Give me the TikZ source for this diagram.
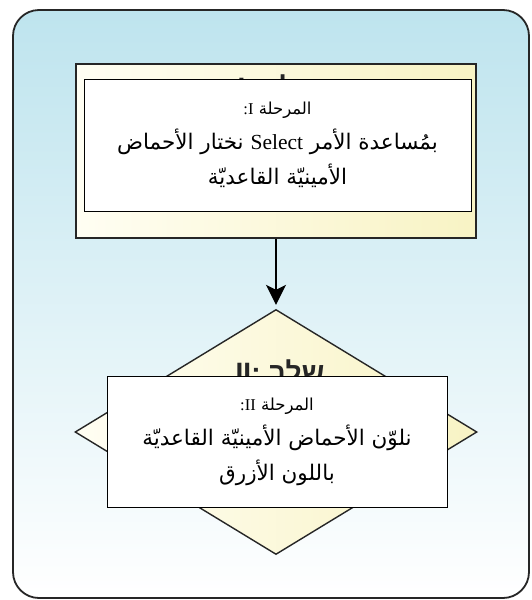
\documentclass[tikz,border=0pt]{standalone}
\usepackage{fontspec}
\setmainfont{Liberation Serif}
\newfontfamily\arabicfont[Script=Arabic]{DejaVu Sans}
\newfontfamily\hebrewfont[Script=Hebrew]{Liberation Sans}
\newfontfamily\latinfont{Liberation Serif}
\TeXXeTstate=1
\definecolor{skyblue}{RGB}{190,228,238}
\definecolor{paleyellow}{RGB}{248,243,196}
\definecolor{creamwhite}{RGB}{255,254,243}
\definecolor{inkgray}{RGB}{38,38,38}
\usetikzlibrary{arrows.meta,positioning,shapes.geometric}

\begin{document}
\begin{tikzpicture}[x=1pt, y=-1pt,
    stepbox/.style={draw=inkgray, line width=1.4pt, left color=creamwhite, right color=paleyellow, inner sep=0pt},
    notebox/.style={draw=black, line width=1pt, fill=white, align=center, inner sep=0pt,
      font=\arabicfont\fontsize{21.5}{35}\selectfont},
    hebtag/.style={font=\hebrewfont\bfseries\fontsize{28}{30}\selectfont, text=inkgray, anchor=base}]
    \useasboundingbox (0,0) rectangle (531,600);

    % Outer frame
    \draw[inkgray, line width=1.8pt, rounded corners=26pt, top color=skyblue, bottom color=white]
      (13,10) rectangle (529,598);

    % Step I (yellow box)
    \node[stepbox, minimum width=400pt, minimum height=174pt] (stepone) at (276,151) {};
    \node[hebtag] (tagone) at (278,97) {\beginR שלב I:\endR};

    % Step II (diamond)
    \node[stepbox, diamond, minimum width=402pt, minimum height=245pt] (steptwo) at (276,432) {};
    \node[hebtag] (tagtwo) at (280,382) {\beginR שלב II:\endR};

    % Connector
    \draw[-{Stealth[length=20pt, width=20pt, inset=5pt]}, line width=1.3pt, shorten >=4pt]
      (stepone.south) -- (steptwo.north);

    % Notes (white boxes on top)
    \node[notebox, minimum width=387pt, minimum height=132pt] (noteone) at (277.5,145)
      {{\fontsize{16.5}{35}\selectfont\beginR المرحلة {\latinfont I\kern0pt:}\endR}\\
       \beginR بمُساعدة الأمر \beginL{\latinfont Select}\endL{} نختار الأحماض\endR\\
       \beginR الأمينيّة القاعديّة\endR};
    \node[notebox, minimum width=340pt, minimum height=131pt] (notetwo) at (277,441.5)
      {{\fontsize{16.5}{35}\selectfont\beginR المرحلة {\latinfont II\kern0pt:}\endR}\\
       \beginR نلوّن الأحماض الأمينيّة القاعديّة\endR\\
       \beginR باللون الأزرق\endR};
\end{tikzpicture}
\end{document}
